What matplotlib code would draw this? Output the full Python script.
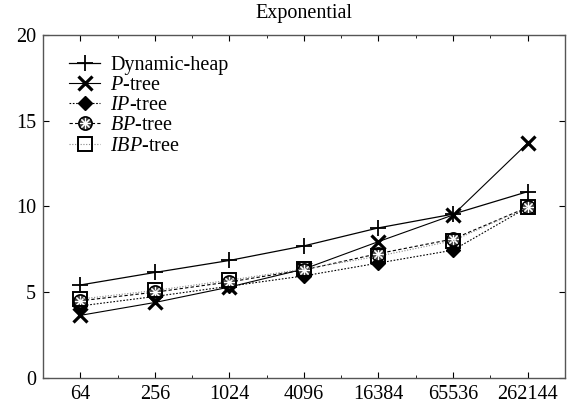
import numpy as np
import matplotlib
matplotlib.use("Agg")
import matplotlib.pyplot as plt
from matplotlib.legend_handler import HandlerTuple

plt.rcParams['font.family'] = ['Liberation Serif', 'DejaVu Serif']
plt.rcParams['mathtext.fontset'] = 'custom'
plt.rcParams['mathtext.it'] = 'Liberation Serif:italic'
plt.rcParams['mathtext.rm'] = 'Liberation Serif'

# data
sizes = ['64', '256', '1024', '4096', '16384', '65536', '262144']
dynamic_heap = [5.42, 6.15, 6.85, 7.7, 8.75, 9.55, 10.86]
p_tree = [3.65, 4.4, 5.3, 6.35, 7.95, 9.5, 13.68]
ip_tree = [4.2, 4.75, 5.35, 5.95, 6.7, 7.45, 9.95]
bp_tree = [4.5, 5.0, 5.6, 6.3, 7.25, 8.1, 9.95]
ibp_tree = [4.6, 5.1, 5.7, 6.35, 7.1, 8.0, 9.95]

x = np.arange(len(sizes))

fig = plt.figure(figsize=(5.69, 4.07), dpi=100)
ax = fig.add_axes([0.0756, 0.0713, 0.917, 0.843])

h1, = ax.plot(x, dynamic_heap, color='black', lw=0.9, marker='+', ms=12, mew=1.3)
h2, = ax.plot(x, p_tree, color='black', lw=0.8, marker='x', ms=10, mew=2.3)
h3, = ax.plot(x, ip_tree, color='black', lw=0.8, ls=(0, (1.5, 1.5)), marker='D',
              ms=7.5, mfc='black')
h4, = ax.plot(x, bp_tree, color='black', lw=0.8, ls=(0, (3, 2)), marker='o',
              ms=9.5, mfc='#444444', mec='black', mew=1.2)
h4b, = ax.plot(x, bp_tree, ls='none', marker=(8, 2, 0), ms=8, mec='white', mew=0.8)
h5, = ax.plot(x, ibp_tree, color='#888888', lw=0.8, ls=(0, (1, 1.5)), marker='s',
              ms=9.5, mfc='none', mec='black', mew=1.4)

ax.set_xlim(-0.5, len(sizes) - 0.5)
ax.set_ylim(0, 20)
ax.set_xticks(x)
ax.set_xticklabels(sizes)
ax.set_xticks(x[:-1] + 0.5, minor=True)
ax.set_yticks([0, 5, 10, 15, 20])
ax.tick_params(direction='in', top=True, right=True, labelsize=14.5, length=4, pad=5)
ax.tick_params(which='minor', direction='in', top=True, length=2.5)
for s in ax.spines.values():
    s.set_color('#555555')
    s.set_linewidth(1.0)

ax.set_title('Exponential', fontsize=14.5, pad=12)

ax.legend([h1, h2, h3, (h4, h4b), h5],
          ['Dynamic-heap', '$\\mathit{P}$-tree', '$\\mathit{IP}$-tree',
           '$\\mathit{BP}$-tree', '$\\mathit{IBP}$-tree'],
          handler_map={tuple: HandlerTuple(ndivide=1, pad=0)},
          loc='upper left', bbox_to_anchor=(0.05, 0.94), frameon=False,
          fontsize=14.5, handlelength=1.55, handletextpad=0.5, labelspacing=0.06,
          borderaxespad=0, borderpad=0)

fig.savefig('out.png', dpi=100)
